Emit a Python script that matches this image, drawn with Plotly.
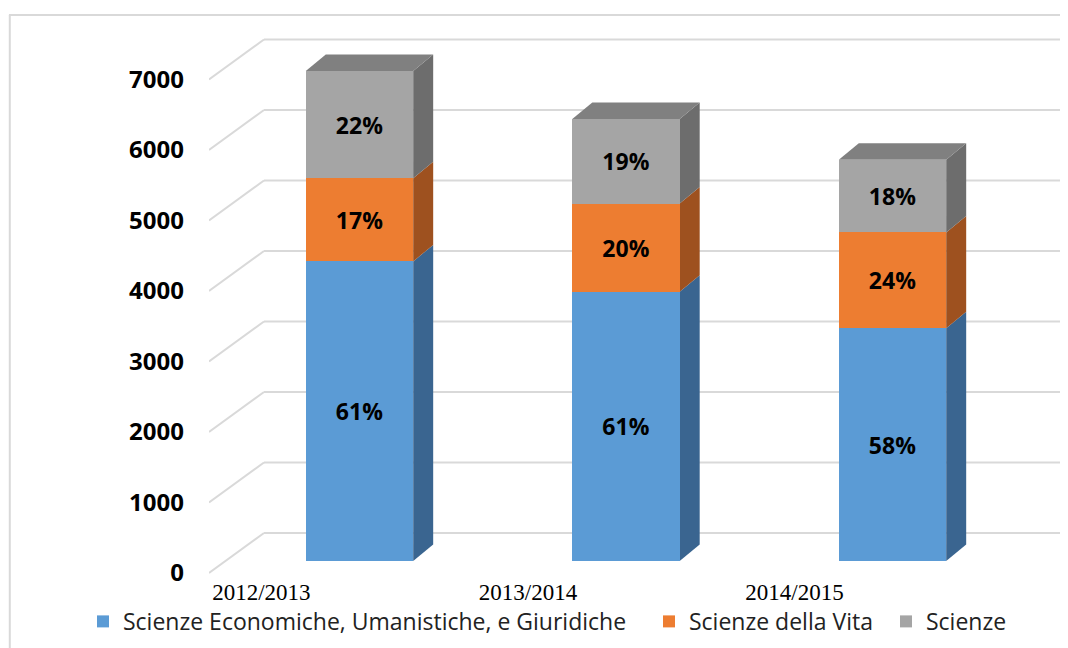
import plotly.graph_objects as go

# ---- data ----
years = ["2012/2013", "2013/2014", "2014/2015"]
series_names = ["Scienze Economiche, Umanistiche, e Giuridiche", "Scienze della Vita", "Scienze"]
econ = [4250, 3820, 3300]
vita = [1180, 1250, 1360]
sci = [1520, 1200, 1030]
econ_pct = ["61%", "61%", "58%"]
vita_pct = ["17%", "20%", "24%"]
sci_pct = ["22%", "19%", "18%"]
y_ticks = [0, 1000, 2000, 3000, 4000, 5000, 6000, 7000]

# ---- style ----
front_cols = ["#5B9BD5", "#ED7D31", "#A5A5A5"]
side_cols = ["#3A6590", "#9E511F", "#6D6D6D"]
top_col = "#808080"
grid_col = "#D9D9D9"
legend_ids = ["legend", "legend2", "legend3"]
legend_x = [-0.1474, 0.5146, 0.7918]

# geometry (in axis units)
bar_w = 0.403
dx_depth = 0.075      # bar depth, x
dy_depth = 234        # bar depth, y
dx_wall = 0.2064      # floor depth to back wall, x
dy_wall_back = 397    # back wall offset relative to bar front plane
dy_floor_front = -170 # floor front edge offset relative to bar front plane
x_range = [-0.5647, 2.6435]
y_range = [-269.5, 7673.8]

xs = list(range(len(years)))
series = [econ, vita, sci]
labels = [econ_pct, vita_pct, sci_pct]

fig = go.Figure()
for name, vals, txt, col, lg in zip(series_names, series, labels, front_cols, legend_ids):
    fig.add_trace(go.Bar(
        x=xs, y=vals, name=name, width=bar_w, legend=lg,
        marker=dict(color=col, line=dict(width=0)),
        text=txt, textposition="inside", insidetextanchor="middle",
        textangle=0, constraintext="none",
        textfont=dict(family="Open Sans", size=23, color="black", weight="bold"),
        hoverinfo="skip",
    ))

# dummy trace to carry the tick-label axis
fig.add_trace(go.Scatter(x=[None], y=[None], yaxis="y2", showlegend=False, hoverinfo="skip"))

shapes = []
# back wall gridlines + floor diagonals
for v in y_ticks:
    shapes.append(dict(type="line", xref="x", yref="y", layer="below",
                       x0=x_range[0] + dx_wall, y0=v + dy_wall_back,
                       x1=x_range[1], y1=v + dy_wall_back,
                       line=dict(color=grid_col, width=2)))
    shapes.append(dict(type="line", xref="x", yref="y", layer="below",
                       x0=x_range[0], y0=v + dy_floor_front,
                       x1=x_range[0] + dx_wall, y1=v + dy_wall_back,
                       line=dict(color=grid_col, width=2)))

# 3D side and top faces
for i in xs:
    base = 0
    xr = i + bar_w / 2
    xl = i - bar_w / 2
    for k, vals in enumerate(series):
        b = base
        t = base + vals[i]
        path = (f"M {xr},{b} L {xr + dx_depth},{b + dy_depth} "
                f"L {xr + dx_depth},{t + dy_depth} L {xr},{t} Z")
        shapes.append(dict(type="path", xref="x", yref="y", layer="below", path=path,
                           fillcolor=side_cols[k], line=dict(width=0)))
        base = t
    path = (f"M {xl},{base} L {xl + dx_depth},{base + dy_depth} "
            f"L {xr + dx_depth},{base + dy_depth} L {xr},{base} Z")
    shapes.append(dict(type="path", xref="x", yref="y", layer="below", path=path,
                       fillcolor=top_col, line=dict(width=0)))

# outer chart border (top and left)
shapes.append(dict(type="line", xref="paper", yref="paper", x0=-0.233, x1=-0.233,
                   y0=1.0089, y1=-0.14, line=dict(color=grid_col, width=2)))
shapes.append(dict(type="line", xref="paper", yref="paper", x0=-0.234, x1=1.01,
                   y0=1.0089, y1=1.0089, line=dict(color=grid_col, width=2)))

legend_style = dict(orientation="h", xanchor="left", y=-0.074, yanchor="middle",
                    bgcolor="rgba(0,0,0,0)",
                    font=dict(family="Open Sans", size=23, color="#222222"))
legends = {lg: dict(legend_style, x=lx) for lg, lx in zip(legend_ids, legend_x)}

fig.update_layout(
    width=1060, height=640,
    margin=dict(l=201, r=4, t=12, b=68),
    paper_bgcolor="white", plot_bgcolor="white",
    barmode="stack",
    shapes=shapes,
    showlegend=True,
    xaxis=dict(range=x_range, tickvals=[i - 0.368 for i in xs], ticktext=years,
               showgrid=False, zeroline=False, showline=False, ticks="",
               automargin=False, ticklabelstandoff=-4,
               tickfont=dict(family="Liberation Serif", size=23, color="black")),
    yaxis=dict(range=y_range, showticklabels=False, showgrid=False, zeroline=False,
               showline=False, ticks="", automargin=False),
    yaxis2=dict(overlaying="y", side="left",
                range=[y_range[0] - dy_floor_front, y_range[1] - dy_floor_front],
                tickvals=y_ticks, ticktext=[str(v) for v in y_ticks],
                showgrid=False, zeroline=False, showline=False, ticks="",
                ticklabelstandoff=24, automargin=False,
                tickfont=dict(family="Open Sans", size=24, color="black", weight="bold")),
    **legends,
)

fig.write_html("out.html")
